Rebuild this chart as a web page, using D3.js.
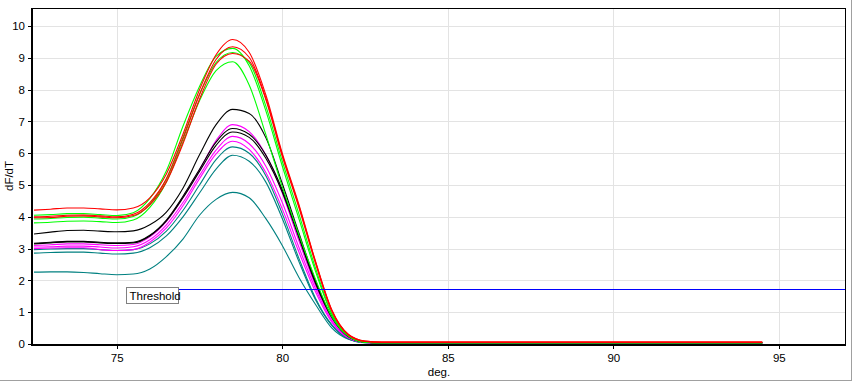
<!DOCTYPE html>
<html>
<head>
<meta charset="utf-8">
<script src="https://cdn.jsdelivr.net/npm/d3@7"></script>
<style>
  html, body { margin: 0; padding: 0; background: #fff; }
  svg { display: block; font-family: "Liberation Sans", Arial, sans-serif; }
</style>
</head>
<body>
<svg id="chart" width="852" height="381"></svg>
<script>
// ---- data ----
const temps = [72.5, 73, 73.5, 74, 74.5, 75, 75.5, 76, 76.5, 77, 77.5, 78, 78.5, 79, 79.5, 80, 80.5, 81, 81.5, 82, 82.5, 83, 86, 90, 94.5];

const tealC = [
  [2.26,2.27,2.27,2.25,2.21,2.18,2.20,2.36,2.75,3.30,4.05,4.55,4.77,4.60,3.95,3.10,2.10,1.25,0.50,0.15,0.05,0.03,0.03,0.03,0.03],
  [2.86,2.88,2.89,2.89,2.86,2.83,2.86,3.03,3.40,4.00,4.75,5.50,5.94,5.75,5.10,3.95,2.60,1.40,0.58,0.16,0.04,0.03,0.03,0.03,0.03],
  [2.97,2.99,3.00,3.00,2.97,2.94,2.97,3.15,3.55,4.20,5.00,5.80,6.20,6.00,5.30,4.10,2.70,1.45,0.60,0.17,0.04,0.03,0.03,0.03,0.03]
];
const magentaC = [
  [3.10,3.12,3.15,3.15,3.12,3.10,3.13,3.37,3.86,4.60,5.47,6.40,6.90,6.68,5.95,4.75,3.25,1.85,0.78,0.22,0.06,0.03,0.03,0.03,0.03],
  [3.05,3.06,3.08,3.08,3.05,3.02,3.06,3.28,3.75,4.45,5.30,6.10,6.53,6.30,5.60,4.45,3.05,1.75,0.72,0.20,0.05,0.03,0.03,0.03,0.03],
  [3.00,3.02,3.03,3.03,2.97,2.94,2.97,3.20,3.65,4.35,5.20,5.98,6.38,6.12,5.40,4.25,2.90,1.65,0.68,0.19,0.05,0.03,0.03,0.03,0.03]
];
const blackC = [
  [3.46,3.52,3.57,3.58,3.55,3.53,3.56,3.75,4.15,4.90,5.95,6.90,7.38,7.25,6.50,5.05,3.50,2.00,0.85,0.25,0.06,0.04,0.04,0.04,0.04],
  [3.17,3.20,3.23,3.23,3.20,3.18,3.20,3.42,3.90,4.65,5.50,6.35,6.78,6.60,5.95,4.85,3.40,1.95,0.85,0.24,0.06,0.04,0.04,0.04,0.04],
  [3.15,3.18,3.21,3.21,3.18,3.16,3.18,3.40,3.87,4.60,5.43,6.25,6.67,6.50,5.85,4.78,3.35,1.92,0.83,0.23,0.06,0.04,0.04,0.04,0.04]
];
const greenC = [
  [4.05,4.07,4.10,4.10,4.07,4.04,4.13,4.58,5.45,6.85,8.10,9.05,9.30,8.75,7.35,5.60,3.95,2.30,0.92,0.25,0.06,0.04,0.04,0.04,0.04],
  [3.93,3.95,3.98,3.99,3.96,3.93,4.01,4.40,5.20,6.50,7.85,8.85,9.17,8.85,7.50,5.75,4.10,2.40,0.95,0.26,0.06,0.04,0.04,0.04,0.04],
  [3.81,3.83,3.86,3.87,3.85,3.82,3.90,4.30,5.10,6.35,7.65,8.60,8.88,8.15,6.60,4.95,3.45,2.05,0.85,0.24,0.06,0.04,0.04,0.04,0.04]
];
const redC = [
  [4.21,4.24,4.28,4.28,4.25,4.22,4.28,4.60,5.35,6.60,8.00,9.10,9.58,9.18,7.85,6.00,4.40,2.62,1.07,0.30,0.09,0.06,0.06,0.06,0.06],
  [4.00,4.02,4.05,4.06,4.03,4.00,4.08,4.45,5.20,6.45,7.85,8.95,9.35,9.02,7.75,5.95,4.35,2.60,1.05,0.30,0.09,0.06,0.06,0.06,0.06],
  [3.97,3.98,4.02,4.03,4.00,3.97,4.04,4.38,5.10,6.30,7.70,8.80,9.14,8.90,7.70,5.90,4.30,2.55,1.02,0.28,0.08,0.05,0.05,0.05,0.05]
];

const groups = [
  { color: "#008080", curves: tealC },
  { color: "#ff00ff", curves: magentaC },
  { color: "#000000", curves: blackC },
  { color: "#00ff00", curves: greenC },
  { color: "#ff0000", curves: redC }
];

const xTicks = [75, 80, 85, 90, 95];
const yTicks = [0, 1, 2, 3, 4, 5, 6, 7, 8, 9, 10];
const thresholdValue = 1.73;
const thresholdStart = 75.28;
const xLabel = "deg.";
const yLabel = "dF/dT";
const thresholdLabel = "Threshold";

// ---- layout ----
const svg = d3.select("#chart");
const L = 33, R = 845, T = 8, B = 344;
const x = d3.scaleLinear().domain([72.47, 97.0]).range([L, R]);
const y = d3.scaleLinear().domain([0, 10.57]).range([B, T]);

// outer panel border (right/bottom)
svg.append("line").attr("x1", 851.5).attr("x2", 851.5).attr("y1", 0).attr("y2", 381).attr("stroke", "#a0a0a0");
svg.append("line").attr("x1", 0).attr("x2", 852).attr("y1", 380.5).attr("y2", 380.5).attr("stroke", "#a0a0a0");

// grid
const grid = svg.append("g").attr("shape-rendering", "crispEdges");
grid.selectAll(".gy").data(yTicks).join("line")
  .attr("x1", L).attr("x2", R).attr("y1", d => Math.round(y(d)) + 0.5).attr("y2", d => Math.round(y(d)) + 0.5)
  .attr("stroke", "#e3e3e3");
grid.selectAll(".gx").data(xTicks).join("line")
  .attr("y1", T).attr("y2", B).attr("x1", d => Math.round(x(d)) + 0.5).attr("x2", d => Math.round(x(d)) + 0.5)
  .attr("stroke", "#e3e3e3");

// curves
svg.append("clipPath").attr("id", "clip").append("rect")
  .attr("x", L).attr("y", T).attr("width", R - L).attr("height", B - T + 1);
const line = d3.line().x((d, i) => x(temps[i])).y(d => y(d)).curve(d3.curveMonotoneX);
const cg = svg.append("g").attr("clip-path", "url(#clip)");
groups.forEach(g => {
  g.curves.forEach(c => {
    cg.append("path").attr("d", line(c)).attr("fill", "none")
      .attr("stroke", g.color).attr("stroke-width", 1.1);
  });
});

// threshold
const ty = Math.round(y(thresholdValue)) + 0.5;
svg.append("line").attr("x1", x(thresholdStart)).attr("x2", R).attr("y1", ty).attr("y2", ty)
  .attr("stroke", "#0000ff").attr("shape-rendering", "crispEdges");
const tx = Math.round(x(thresholdStart)) + 0.5;
svg.append("rect").attr("x", tx).attr("y", ty - 2).attr("width", 52).attr("height", 16)
  .attr("fill", "#fff").attr("stroke", "#808080").attr("shape-rendering", "crispEdges");
svg.append("text").attr("x", tx + 3).attr("y", ty + 10).attr("font-size", 11.5).attr("fill", "#000")
  .text(thresholdLabel);

// axes
const ax = svg.append("g").attr("transform", `translate(0,${B + 1})`)
  .call(d3.axisBottom(x).tickValues(xTicks).tickSize(4).tickPadding(5).tickFormat(d3.format("d")));
const ay = svg.append("g").attr("transform", `translate(${L - 1},0)`)
  .call(d3.axisLeft(y).tickValues(yTicks).tickSize(4).tickPadding(3).tickFormat(d3.format("d")));
[ax, ay].forEach(a => {
  a.select(".domain").remove();
  a.selectAll("text").attr("font-size", 11.5).attr("font-family", "Liberation Sans, Arial, sans-serif").attr("fill", "#000");
  a.selectAll("line").attr("stroke", "#000").attr("shape-rendering", "crispEdges");
});

// frame
const fr = svg.append("g").attr("shape-rendering", "crispEdges").attr("stroke", "#000");
fr.append("line").attr("x1", L - 1).attr("x2", L - 1).attr("y1", T).attr("y2", B + 2).attr("stroke-width", 2);
fr.append("line").attr("x1", L - 2).attr("x2", R + 1).attr("y1", B + 1).attr("y2", B + 1).attr("stroke-width", 2);
fr.append("line").attr("x1", L - 2).attr("x2", R + 1).attr("y1", T + 0.5).attr("y2", T + 0.5).attr("stroke-width", 1);
fr.append("line").attr("x1", R + 0.5).attr("x2", R + 0.5).attr("y1", T).attr("y2", B + 2).attr("stroke-width", 1);

// axis titles
svg.append("text").attr("x", (L + R) / 2).attr("y", 376).attr("text-anchor", "middle")
  .attr("font-size", 11.5).text(xLabel);
svg.append("text").attr("transform", `translate(13,${(T + B) / 2}) rotate(-90)`).attr("text-anchor", "middle")
  .attr("font-size", 11.5).text(yLabel);
</script>
</body>
</html>
